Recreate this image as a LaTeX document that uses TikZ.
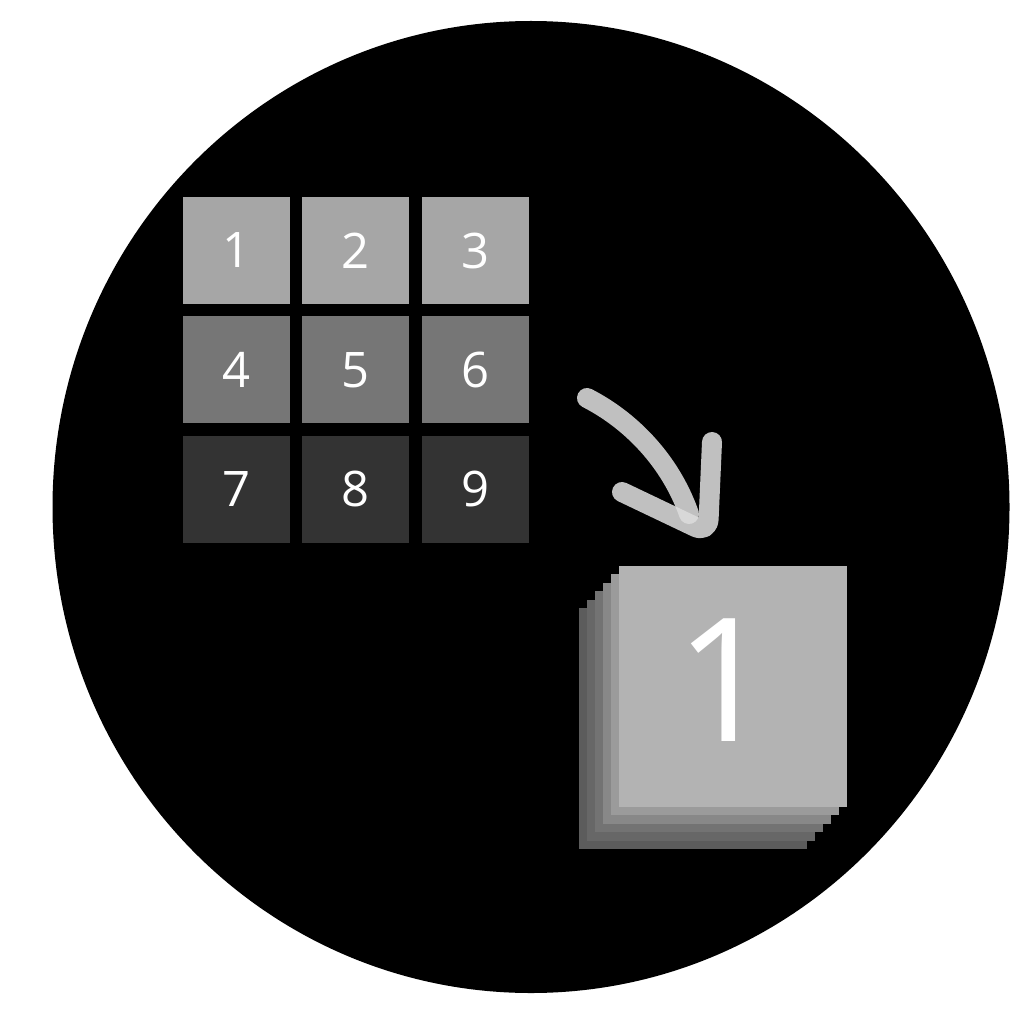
\documentclass[tikz,border=0pt]{standalone}
\usepackage{fontspec}
\setmainfont{Open Sans}
\usetikzlibrary{positioning}
\definecolor{row one}{HTML}{A6A6A6}
\definecolor{row two}{HTML}{767676}
\definecolor{row three}{HTML}{333333}
\definecolor{arrow gray}{HTML}{DCDCDC}
\tikzset{
    cell/.style = {
        minimum size=107pt,
        inner sep=0pt,
        text = white,
        font = \fontsize{49}{58}\selectfont,
        },
    top row/.style = {
        fill = row one,
        },
    middle row/.style = {
        fill = row two,
        },
    bottom row/.style = {
        fill = row three,
        },
    layer/.style = {
        minimum width=228pt,
        minimum height=241pt,
        inner sep=0pt,
        },
    stroke/.style = {
        draw = arrow gray,
        line width = 20pt,
        line cap = round,
        line join = round,
        opacity = 0.875,
        },
}

\begin{document}
\begin{tikzpicture}[x=1pt, y=-1pt, node distance=12pt]
            \useasboundingbox (0,0) rectangle (1024,1024);
            \fill (531,507) ellipse [x radius=478.5pt, y radius=486pt];

            \node[cell, top row] (1) at (236.5,250.5) {1};
            \node[cell, top row, right=of 1] (2) {2};
            \node[cell, top row, right=of 2] (3) {3};
            \node[cell, middle row, below=of 1] (4) {4};
            \node[cell, middle row, right=of 4] (5) {5};
            \node[cell, middle row, right=of 5] (6) {6};
            \node[cell, bottom row, below=of 4] (7) {7};
            \node[cell, bottom row, right=of 7] (8) {8};
            \node[cell, bottom row, right=of 8] (9) {9};

            % stack of layers, back to front
            \node[layer, fill={rgb,255:red,92;green,92;blue,92}] (layer5) at (693,728) {};
            \node[layer, fill={rgb,255:red,103;green,103;blue,103}] (layer4) at (701,720) {};
            \node[layer, fill={rgb,255:red,115;green,115;blue,115}] (layer3) at (709,711) {};
            \node[layer, fill={rgb,255:red,136;green,136;blue,136}] (layer2) at (717,703) {};
            \node[layer, fill={rgb,255:red,155;green,155;blue,155}] (layer1) at (725,694) {};
            \node[layer, fill={rgb,255:red,179;green,179;blue,179}] (big) at (733,686) {};
            \node[text=white, font=\fontsize{172}{200}\selectfont, inner sep=0pt] (one) at ([shift={(-8pt,6pt)}]big.center) {1};

            \coordinate (tail) at (587,398);
            \coordinate (tip) at (689,514);
            \coordinate (wing) at (622,492);
            \coordinate (corner) at (708,533);
            \coordinate (barb) at (712,442);
            \draw[stroke] (tail) .. controls (630,420) and (670,460) .. (tip);
            \draw[stroke, rounded corners=14pt] (wing) -- (corner) -- (barb);
\end{tikzpicture}
\end{document}
